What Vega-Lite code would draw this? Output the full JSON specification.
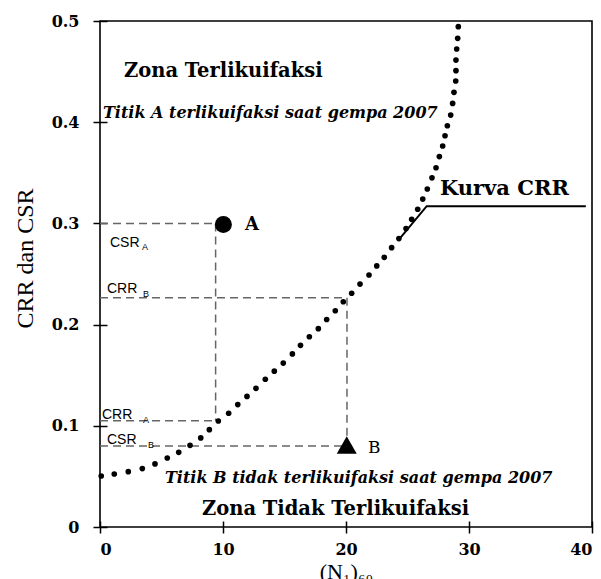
{
  "$schema": "https://vega.github.io/schema/vega-lite/v6.json",
  "width": 492,
  "height": 506,
  "autosize": {"type": "none"},
  "padding": {"left": 100, "top": 21, "right": 9, "bottom": 52},
  "background": "white",
  "config": {
    "view": {"stroke": "black", "strokeWidth": 1.6},
    "axis": {
      "domain": false, "grid": false, "tickColor": "black", "tickWidth": 1.5,
      "labelFont": "DejaVu Serif", "labelFontWeight": "bold", "labelFontSize": 16, "labelColor": "black",
      "titleColor": "black", "titleFont": "Liberation Serif", "titleFontWeight": "normal"
    }
  },
  "layer": [
    {
      "data": {"values": [
        {"x": 0, "y": 0.3, "x2": 9.4, "y2": 0.3},
        {"x": 9.4, "y": 0.3, "x2": 9.4, "y2": 0.105},
        {"x": 0, "y": 0.105, "x2": 9.4, "y2": 0.105},
        {"x": 0, "y": 0.2266, "x2": 20.08, "y2": 0.2266},
        {"x": 20.08, "y": 0.2266, "x2": 20.08, "y2": 0.08},
        {"x": 0, "y": 0.08, "x2": 20.08, "y2": 0.08}
      ]},
      "mark": {"type": "rule", "color": "#666666", "strokeWidth": 1.5, "strokeDash": [8, 5]},
      "encoding": {
        "x": {"field": "x", "type": "quantitative",
          "scale": {"domain": [0, 40], "nice": false, "zero": false},
          "axis": {"values": [0, 10, 20, 30, 40], "offset": -6, "tickSize": 12, "labelPadding": 8,
            "title": "(N₁)₆₀", "titleFontSize": 22, "titleX": 246, "titleY": 57, "titleBaseline": "alphabetic"}},
        "y": {"field": "y", "type": "quantitative",
          "scale": {"domain": [0, 0.5], "nice": false, "zero": false},
          "axis": {"values": [0, 0.1, 0.2, 0.3, 0.4, 0.5], "format": ".1~f", "offset": -7, "tickSize": 14, "labelPadding": 14,
            "title": "CRR dan CSR", "titleFontSize": 24, "titleAngle": -90, "titleX": -75, "titleY": 237, "titleBaseline": "alphabetic", "titleAlign": "center"}},
        "x2": {"field": "x2"},
        "y2": {"field": "y2"}
      }
    },
    {
      "data": {"values": [
        {"x": 24.33, "y": 0.2844},
        {"x": 26.56, "y": 0.317},
        {"x": 39.5, "y": 0.317}
      ]},
      "mark": {"type": "line", "color": "black", "strokeWidth": 2},
      "encoding": {
        "x": {"field": "x", "type": "quantitative"},
        "y": {"field": "y", "type": "quantitative"}
      }
    },
    {
      "data": {"values": [
        {"x": 0.1, "y": 0.0504}, {"x": 1.16, "y": 0.0524}, {"x": 2.3, "y": 0.0547}, {"x": 3.44, "y": 0.0577},
        {"x": 4.47, "y": 0.0623}, {"x": 5.47, "y": 0.0682}, {"x": 6.4, "y": 0.0738}, {"x": 7.32, "y": 0.0807},
        {"x": 8.19, "y": 0.088}, {"x": 8.89, "y": 0.0962}, {"x": 9.62, "y": 0.1047}, {"x": 10.46, "y": 0.1124},
        {"x": 11.2, "y": 0.121}, {"x": 11.95, "y": 0.129}, {"x": 12.68, "y": 0.137}, {"x": 13.44, "y": 0.146},
        {"x": 14.17, "y": 0.154}, {"x": 14.9, "y": 0.162}, {"x": 15.64, "y": 0.171}, {"x": 16.3, "y": 0.1795},
        {"x": 17.02, "y": 0.188}, {"x": 17.75, "y": 0.196}, {"x": 18.43, "y": 0.205}, {"x": 19.13, "y": 0.2137},
        {"x": 19.78, "y": 0.2226}, {"x": 20.46, "y": 0.231}, {"x": 21.14, "y": 0.24}, {"x": 21.87, "y": 0.249},
        {"x": 22.5, "y": 0.258}, {"x": 23.11, "y": 0.2665}, {"x": 23.71, "y": 0.276}, {"x": 24.3, "y": 0.285},
        {"x": 24.88, "y": 0.295}, {"x": 25.34, "y": 0.304}, {"x": 25.83, "y": 0.314}, {"x": 26.24, "y": 0.324},
        {"x": 26.61, "y": 0.334}, {"x": 26.99, "y": 0.345}, {"x": 27.32, "y": 0.355}, {"x": 27.59, "y": 0.366},
        {"x": 27.86, "y": 0.3765}, {"x": 28.05, "y": 0.3866}, {"x": 28.24, "y": 0.3965}, {"x": 28.51, "y": 0.407},
        {"x": 28.67, "y": 0.4186}, {"x": 28.78, "y": 0.4295}, {"x": 28.92, "y": 0.4407}, {"x": 28.94, "y": 0.4509},
        {"x": 28.94, "y": 0.4614}, {"x": 29.0, "y": 0.4723}, {"x": 29.08, "y": 0.4829}, {"x": 29.13, "y": 0.4944}
      ]},
      "mark": {"type": "point", "shape": "circle", "filled": true, "color": "black", "size": 32, "opacity": 1},
      "encoding": {
        "x": {"field": "x", "type": "quantitative"},
        "y": {"field": "y", "type": "quantitative"}
      }
    },
    {
      "data": {"values": [{"x": 10.03, "y": 0.299}]},
      "mark": {"type": "point", "shape": "circle", "filled": true, "color": "black", "size": 290, "opacity": 1},
      "encoding": {
        "x": {"field": "x", "type": "quantitative"},
        "y": {"field": "y", "type": "quantitative"}
      }
    },
    {
      "data": {"values": [{"x": 20.06, "y": 0.081}]},
      "mark": {"type": "point", "shape": "triangle-up", "filled": true, "color": "black", "size": 400, "opacity": 1},
      "encoding": {
        "x": {"field": "x", "type": "quantitative"},
        "y": {"field": "y", "type": "quantitative"}
      }
    },
    {
      "data": {"values": [
        {"x": 1.95, "y": 0.4444, "t": "Zona Terlikuifaksi"},
        {"x": 8.29, "y": 0.0119, "t": "Zona Tidak Terlikuifaksi"}
      ]},
      "mark": {"type": "text", "font": "DejaVu Serif", "fontWeight": "bold", "fontSize": 19.5, "align": "left", "baseline": "alphabetic", "color": "black"},
      "encoding": {
        "x": {"field": "x", "type": "quantitative"},
        "y": {"field": "y", "type": "quantitative"},
        "text": {"field": "t"}
      }
    },
    {
      "data": {"values": [
        {"x": 0.24, "y": 0.4042, "t": "Titik A terlikuifaksi saat gempa 2007"},
        {"x": 5.28, "y": 0.0435, "t": "Titik B tidak terlikuifaksi saat gempa 2007"}
      ]},
      "mark": {"type": "text", "font": "DejaVu Serif", "fontWeight": "bold", "fontStyle": "italic", "fontSize": 16, "align": "left", "baseline": "alphabetic", "color": "black"},
      "encoding": {
        "x": {"field": "x", "type": "quantitative"},
        "y": {"field": "y", "type": "quantitative"},
        "text": {"field": "t"}
      }
    },
    {
      "data": {"values": [
        {"x": 27.64, "y": 0.328, "t": "Kurva CRR"}
      ]},
      "mark": {"type": "text", "font": "DejaVu Serif", "fontWeight": "bold", "fontSize": 21, "align": "left", "baseline": "alphabetic", "color": "black"},
      "encoding": {
        "x": {"field": "x", "type": "quantitative"},
        "y": {"field": "y", "type": "quantitative"},
        "text": {"field": "t"}
      }
    },
    {
      "data": {"values": [
        {"x": 11.79, "y": 0.2935, "t": "A"}
      ]},
      "mark": {"type": "text", "font": "DejaVu Serif", "fontWeight": "bold", "fontSize": 18, "align": "left", "baseline": "alphabetic", "color": "black"},
      "encoding": {
        "x": {"field": "x", "type": "quantitative"},
        "y": {"field": "y", "type": "quantitative"},
        "text": {"field": "t"}
      }
    },
    {
      "data": {"values": [
        {"x": 21.79, "y": 0.0731, "t": "B"}
      ]},
      "mark": {"type": "text", "font": "DejaVu Serif", "fontWeight": "normal", "fontSize": 17, "align": "left", "baseline": "alphabetic", "color": "black"},
      "encoding": {
        "x": {"field": "x", "type": "quantitative"},
        "y": {"field": "y", "type": "quantitative"},
        "text": {"field": "t"}
      }
    },
    {
      "data": {"values": [
        {"x": 0.81, "y": 0.2767, "t": "CSR"},
        {"x": 0.57, "y": 0.2312, "t": "CRR"},
        {"x": 0.16, "y": 0.1067, "t": "CRR"},
        {"x": 0.57, "y": 0.082, "t": "CSR"}
      ]},
      "mark": {"type": "text", "font": "Liberation Sans", "fontSize": 14, "align": "left", "baseline": "alphabetic", "color": "black"},
      "encoding": {
        "x": {"field": "x", "type": "quantitative"},
        "y": {"field": "y", "type": "quantitative"},
        "text": {"field": "t"}
      }
    },
    {
      "data": {"values": [
        {"x": 3.41, "y": 0.2737, "t": "A"},
        {"x": 3.5, "y": 0.2273, "t": "B"},
        {"x": 3.5, "y": 0.1028, "t": "A"},
        {"x": 3.9, "y": 0.078, "t": "B"}
      ]},
      "mark": {"type": "text", "font": "Liberation Sans", "fontSize": 9, "align": "left", "baseline": "alphabetic", "color": "black"},
      "encoding": {
        "x": {"field": "x", "type": "quantitative"},
        "y": {"field": "y", "type": "quantitative"},
        "text": {"field": "t"}
      }
    }
  ]
}
